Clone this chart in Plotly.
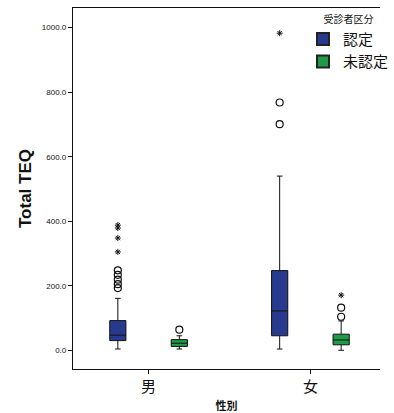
import plotly.graph_objects as go

# ---- data ----
categories = ["男", "女"]
groups = ["認定", "未認定"]

nin_lower = [4, 4]
nin_q1 = [30, 45]
nin_median = [47, 122]
nin_q3 = [92, 247]
nin_upper = [161, 540]
nin_out_male = [193, 205, 219, 234, 248]
nin_out_female = [701, 768]
nin_ext_male = [305, 348, 379, 388]
nin_ext_female = [983]

mi_lower = [4, 0]
mi_q1 = [12, 17]
mi_median = [22, 32]
mi_q3 = [33, 50]
mi_upper = [45, 91]
mi_out_male = [64]
mi_out_female = [104, 132]
mi_ext_male = []
mi_ext_female = [171]

y_ticks = [0, 200, 400, 600, 800, 1000]

# ---- style ----
BLUE = "#283a8e"
GREEN = "#1f9b48"
OFFSET = 0.19
BOXW = 0.10
FONT = "Liberation Sans, Arial, Noto Sans CJK JP"
CJK = "Noto Sans CJK JP, Liberation Sans"

fig = go.Figure()

series = [
    (groups[0], BLUE, -OFFSET, nin_lower, nin_q1, nin_median, nin_q3, nin_upper,
     [nin_out_male, nin_out_female], [nin_ext_male, nin_ext_female]),
    (groups[1], GREEN, OFFSET, mi_lower, mi_q1, mi_median, mi_q3, mi_upper,
     [mi_out_male, mi_out_female], [mi_ext_male, mi_ext_female]),
]

for name, color, off, lo, q1, med, q3, up, outs, exts in series:
    xs = [i + off for i in range(len(categories))]
    fig.add_trace(go.Box(
        x=xs, q1=q1, median=med, q3=q3, lowerfence=lo, upperfence=up,
        width=BOXW, whiskerwidth=0.35, fillcolor=color,
        line=dict(color="#111111", width=1), showlegend=False,
        boxpoints=False, hoverinfo="skip"))
    for i, vals in enumerate(outs):
        if vals:
            fig.add_trace(go.Scatter(
                x=[i + off] * len(vals), y=vals, mode="markers",
                marker=dict(symbol="circle-open", size=7, color="#111111",
                            line=dict(width=1.2)),
                showlegend=False, hoverinfo="skip"))
    for i, vals in enumerate(exts):
        if vals:
            fig.add_trace(go.Scatter(
                x=[i + off] * len(vals), y=vals, mode="markers",
                marker=dict(symbol="asterisk-open", size=5, color="#111111",
                            line=dict(width=1, color="#111111")),
                showlegend=False, hoverinfo="skip"))
    # legend entry
    fig.add_trace(go.Scatter(
        x=[None], y=[None], mode="markers", name=name,
        marker=dict(symbol="square", size=13, color=color,
                    line=dict(width=0.5, color="#222"))))

fig.update_layout(
    width=394, height=413,
    margin=dict(l=73, r=0, t=8, b=41),
    paper_bgcolor="white", plot_bgcolor="white",
    font=dict(family=FONT, color="#111111"),
    legend=dict(
        title=dict(text="受診者区分", font=dict(family=CJK, size=10),
                   side="top center"),
        font=dict(family=CJK, size=15),
        x=0.75, xanchor="left", y=0.995, yanchor="top",
        bgcolor="rgba(0,0,0,0)", itemwidth=30, tracegroupgap=0,
        itemsizing="constant"),
    xaxis=dict(
        range=[-0.467, 1.43], tickmode="array", tickvals=[0, 1],
        ticktext=categories, ticks="outside", ticklen=4, tickwidth=1,
        tickcolor="#111", showline=True, linecolor="#111", linewidth=1.2,
        mirror=True, showgrid=False, zeroline=False,
        tickfont=dict(family=CJK, size=15),
        title=dict(text="<b>性別</b>", font=dict(family=CJK, size=11), standoff=9),
    ),
    yaxis=dict(
        range=[-58, 1061], tickmode="array", tickvals=y_ticks,
        tickformat=".1f", ticks="outside", ticklen=4, tickwidth=1,
        tickcolor="#111", showline=True, linecolor="#111", linewidth=1.2,
        showgrid=False, zeroline=False,
        tickfont=dict(family=FONT, size=8),
        title=dict(text="<b>Total TEQ</b>", font=dict(family=FONT, size=17), standoff=5),
    ),
)

fig.write_html("out.html")
